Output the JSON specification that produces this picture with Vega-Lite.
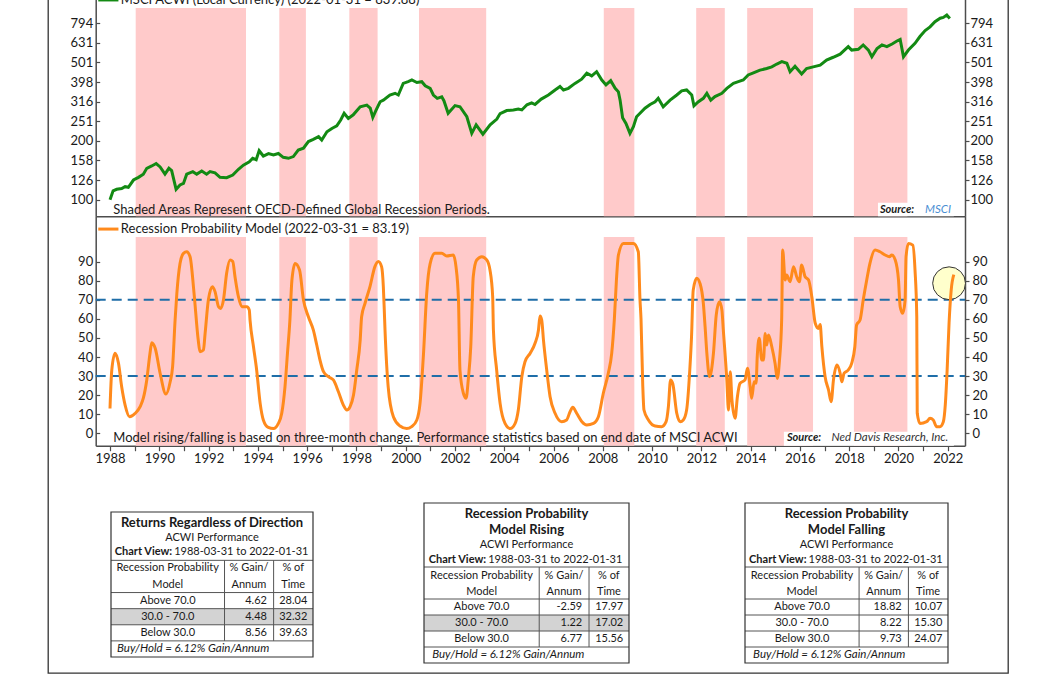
{
  "$schema": "https://vega.github.io/schema/vega-lite/v6.json",
  "width": 960,
  "height": 693,
  "autosize": {"type": "none"},
  "padding": {"left": 48, "top": -20, "right": 48, "bottom": 2},
  "background": "white",
  "view": {"stroke": "#333333", "strokeWidth": 1.3},
  "config": {
    "font": "Lato",
    "locale": {"number": {"decimal": ".", "thousands": ",", "grouping": [3], "currency": ["$", ""], "minus": "-"}},
    "text": {"font": "Lato", "fontSize": 13, "color": "#1a1a1a", "baseline": "middle"},
    "axis": {"labelFont": "Lato", "labelFontSize": 13, "labelColor": "#1a1a1a", "domainColor": "#4d4d4d", "domainWidth": 1.5, "tickColor": "#4d4d4d", "tickWidth": 1.2, "grid": false}
  },
  "datasets": {
    "recessions": [
      {"start": "1989-01-15", "end": "1993-07-08"},
      {"start": "1994-11-14", "end": "1995-12-13"},
      {"start": "1997-09-17", "end": "1998-11-10"},
      {"start": "2000-07-16", "end": "2003-04-08"},
      {"start": "2008-01-15", "end": "2009-04-12"},
      {"start": "2011-10-16", "end": "2012-12-13"},
      {"start": "2013-11-10", "end": "2016-07-13"},
      {"start": "2018-03-11", "end": "2020-05-12"}
    ],
    "acwi": [
      {"date": "1987-12-31", "value": 100}, {"date": "1988-02-15", "value": 111}, {"date": "1988-04-08", "value": 113},
      {"date": "1988-06-21", "value": 114}, {"date": "1988-08-11", "value": 116.5}, {"date": "1988-09-28", "value": 115.7},
      {"date": "1988-12-13", "value": 126}, {"date": "1989-02-25", "value": 130}, {"date": "1989-05-08", "value": 135},
      {"date": "1989-06-28", "value": 144.6}, {"date": "1989-09-10", "value": 148.6}, {"date": "1989-11-14", "value": 153},
      {"date": "1990-01-12", "value": 147}, {"date": "1990-03-25", "value": 135}, {"date": "1990-05-22", "value": 144.6},
      {"date": "1990-07-02", "value": 140.6}, {"date": "1990-09-06", "value": 113}, {"date": "1990-11-03", "value": 118.9},
      {"date": "1990-12-24", "value": 121}, {"date": "1991-02-10", "value": 135}, {"date": "1991-05-12", "value": 139},
      {"date": "1991-07-09", "value": 135}, {"date": "1991-09-21", "value": 140}, {"date": "1991-12-02", "value": 135},
      {"date": "1992-01-22", "value": 139}, {"date": "1992-04-05", "value": 137}, {"date": "1992-06-18", "value": 130},
      {"date": "1992-09-24", "value": 129.5}, {"date": "1992-12-24", "value": 133.6}, {"date": "1993-03-18", "value": 143},
      {"date": "1993-05-30", "value": 150}, {"date": "1993-08-26", "value": 156}, {"date": "1993-10-16", "value": 162.6},
      {"date": "1993-12-06", "value": 160}, {"date": "1994-01-19", "value": 177.8}, {"date": "1994-03-22", "value": 167},
      {"date": "1994-06-07", "value": 172}, {"date": "1994-08-19", "value": 169}, {"date": "1994-10-31", "value": 172},
      {"date": "1995-01-12", "value": 164.5}, {"date": "1995-03-29", "value": 162.6}, {"date": "1995-06-10", "value": 166},
      {"date": "1995-08-22", "value": 179}, {"date": "1995-11-07", "value": 183}, {"date": "1996-01-19", "value": 198},
      {"date": "1996-04-01", "value": 203}, {"date": "1996-06-18", "value": 209.8}, {"date": "1996-08-04", "value": 201.5},
      {"date": "1996-10-20", "value": 222}, {"date": "1997-01-01", "value": 231}, {"date": "1997-03-15", "value": 238},
      {"date": "1997-05-12", "value": 255}, {"date": "1997-07-02", "value": 276}, {"date": "1997-09-02", "value": 260},
      {"date": "1997-11-14", "value": 271}, {"date": "1998-02-25", "value": 298}, {"date": "1998-06-03", "value": 304},
      {"date": "1998-07-24", "value": 293}, {"date": "1998-08-31", "value": 263}, {"date": "1998-10-20", "value": 287},
      {"date": "1998-12-17", "value": 316}, {"date": "1999-02-03", "value": 322}, {"date": "1999-05-11", "value": 342},
      {"date": "1999-07-27", "value": 349}, {"date": "1999-09-13", "value": 342}, {"date": "1999-11-25", "value": 392},
      {"date": "2000-02-06", "value": 400}, {"date": "2000-04-01", "value": 408}, {"date": "2000-06-14", "value": 396},
      {"date": "2000-08-26", "value": 400}, {"date": "2000-10-16", "value": 381}, {"date": "2000-12-28", "value": 370},
      {"date": "2001-02-14", "value": 342}, {"date": "2001-04-13", "value": 329}, {"date": "2001-06-18", "value": 335},
      {"date": "2001-07-20", "value": 320}, {"date": "2001-09-21", "value": 276}, {"date": "2002-01-01", "value": 302},
      {"date": "2002-03-15", "value": 298}, {"date": "2002-06-25", "value": 265}, {"date": "2002-09-06", "value": 218},
      {"date": "2002-11-10", "value": 241}, {"date": "2003-02-18", "value": 216}, {"date": "2003-06-05", "value": 241},
      {"date": "2003-09-13", "value": 258}, {"date": "2003-10-31", "value": 275}, {"date": "2004-02-06", "value": 285},
      {"date": "2004-05-15", "value": 287}, {"date": "2004-07-27", "value": 290}, {"date": "2004-09-17", "value": 287},
      {"date": "2004-12-02", "value": 305}, {"date": "2005-02-10", "value": 312}, {"date": "2005-04-01", "value": 306},
      {"date": "2005-07-02", "value": 326}, {"date": "2005-10-16", "value": 342}, {"date": "2006-01-23", "value": 363},
      {"date": "2006-04-06", "value": 378}, {"date": "2006-05-27", "value": 363}, {"date": "2006-08-08", "value": 370},
      {"date": "2006-11-14", "value": 392}, {"date": "2007-02-21", "value": 412}, {"date": "2007-05-08", "value": 442},
      {"date": "2007-07-20", "value": 428}, {"date": "2007-10-01", "value": 450}, {"date": "2007-12-17", "value": 408},
      {"date": "2008-02-17", "value": 385}, {"date": "2008-04-27", "value": 405}, {"date": "2008-07-02", "value": 370},
      {"date": "2008-08-19", "value": 355}, {"date": "2008-09-13", "value": 322}, {"date": "2008-10-20", "value": 262},
      {"date": "2008-12-09", "value": 245}, {"date": "2009-02-06", "value": 218}, {"date": "2009-03-29", "value": 236},
      {"date": "2009-05-15", "value": 265}, {"date": "2009-07-05", "value": 276}, {"date": "2009-09-17", "value": 293},
      {"date": "2009-12-02", "value": 306}, {"date": "2010-02-14", "value": 316}, {"date": "2010-04-01", "value": 329},
      {"date": "2010-06-14", "value": 298}, {"date": "2010-09-24", "value": 322}, {"date": "2011-01-01", "value": 342},
      {"date": "2011-03-15", "value": 359}, {"date": "2011-05-27", "value": 363}, {"date": "2011-08-11", "value": 342},
      {"date": "2011-09-13", "value": 301}, {"date": "2011-11-18", "value": 316}, {"date": "2012-01-30", "value": 329},
      {"date": "2012-03-22", "value": 349}, {"date": "2012-05-19", "value": 322}, {"date": "2012-07-20", "value": 336},
      {"date": "2012-10-31", "value": 349}, {"date": "2013-01-12", "value": 370}, {"date": "2013-04-20", "value": 392},
      {"date": "2013-07-02", "value": 400}, {"date": "2013-09-13", "value": 408}, {"date": "2013-11-25", "value": 433},
      {"date": "2014-02-10", "value": 444}, {"date": "2014-05-19", "value": 458}, {"date": "2014-08-26", "value": 467},
      {"date": "2014-11-10", "value": 476}, {"date": "2015-01-23", "value": 492}, {"date": "2015-04-08", "value": 506},
      {"date": "2015-06-21", "value": 497}, {"date": "2015-08-08", "value": 450}, {"date": "2015-10-20", "value": 480},
      {"date": "2016-01-26", "value": 438}, {"date": "2016-04-08", "value": 467}, {"date": "2016-07-16", "value": 476},
      {"date": "2016-10-27", "value": 486}, {"date": "2017-01-30", "value": 516}, {"date": "2017-05-08", "value": 533},
      {"date": "2017-08-19", "value": 553}, {"date": "2017-12-17", "value": 604}, {"date": "2018-02-06", "value": 580},
      {"date": "2018-05-15", "value": 585}, {"date": "2018-07-27", "value": 616}, {"date": "2018-10-12", "value": 580},
      {"date": "2018-12-02", "value": 536}, {"date": "2019-02-17", "value": 591}, {"date": "2019-05-01", "value": 616},
      {"date": "2019-07-13", "value": 604}, {"date": "2019-09-28", "value": 623}, {"date": "2019-12-09", "value": 645},
      {"date": "2020-01-26", "value": 657}, {"date": "2020-03-15", "value": 536}, {"date": "2020-05-27", "value": 580},
      {"date": "2020-09-02", "value": 628}, {"date": "2020-11-14", "value": 680}, {"date": "2021-01-30", "value": 730},
      {"date": "2021-04-13", "value": 762}, {"date": "2021-06-25", "value": 809}, {"date": "2021-09-10", "value": 843},
      {"date": "2021-10-27", "value": 851}, {"date": "2021-12-17", "value": 875}, {"date": "2022-01-31", "value": 839.88}
    ],
    "rpm": [
      {"date": "1987-12-31", "value": 13}, {"date": "1988-01-26", "value": 33}, {"date": "1988-03-15", "value": 42},
      {"date": "1988-05-05", "value": 36.7}, {"date": "1988-06-21", "value": 24.4}, {"date": "1988-08-11", "value": 14.8},
      {"date": "1988-10-16", "value": 8.7}, {"date": "1989-01-08", "value": 10.5}, {"date": "1989-03-22", "value": 14},
      {"date": "1989-05-08", "value": 18.4}, {"date": "1989-06-28", "value": 28}, {"date": "1989-08-15", "value": 42},
      {"date": "1989-09-10", "value": 47.5}, {"date": "1989-10-31", "value": 44.6}, {"date": "1990-01-12", "value": 31.5},
      {"date": "1990-04-08", "value": 20.6}, {"date": "1990-06-10", "value": 27}, {"date": "1990-07-16", "value": 34.9},
      {"date": "1990-08-22", "value": 59.4}, {"date": "1990-09-17", "value": 73.4}, {"date": "1990-11-03", "value": 89},
      {"date": "1990-12-24", "value": 94.4}, {"date": "1991-02-10", "value": 95.2}, {"date": "1991-04-01", "value": 92.6},
      {"date": "1991-05-30", "value": 73.4}, {"date": "1991-07-31", "value": 48.9}, {"date": "1991-08-26", "value": 42.8},
      {"date": "1991-10-16", "value": 43.7}, {"date": "1991-11-10", "value": 52.4}, {"date": "1991-12-28", "value": 69.9},
      {"date": "1992-02-25", "value": 76.9}, {"date": "1992-04-05", "value": 74.3}, {"date": "1992-05-27", "value": 66.4},
      {"date": "1992-06-28", "value": 65.5}, {"date": "1992-08-08", "value": 69.9}, {"date": "1992-09-24", "value": 83.9},
      {"date": "1992-11-14", "value": 90.9}, {"date": "1992-12-24", "value": 90.1}, {"date": "1993-01-26", "value": 82.1},
      {"date": "1993-03-18", "value": 71.6}, {"date": "1993-05-08", "value": 66.4}, {"date": "1993-07-20", "value": 66.4},
      {"date": "1993-08-26", "value": 64.7}, {"date": "1993-09-06", "value": 59.4}, {"date": "1993-10-27", "value": 45.4},
      {"date": "1993-12-13", "value": 33.2}, {"date": "1994-02-03", "value": 15.7}, {"date": "1994-03-22", "value": 7},
      {"date": "1994-06-03", "value": 3.1}, {"date": "1994-08-19", "value": 2.5}, {"date": "1994-10-31", "value": 5.2},
      {"date": "1994-12-20", "value": 10.5}, {"date": "1995-02-06", "value": 24.4}, {"date": "1995-03-15", "value": 42},
      {"date": "1995-04-20", "value": 59.4}, {"date": "1995-05-19", "value": 80}, {"date": "1995-07-05", "value": 89},
      {"date": "1995-09-10", "value": 85.6}, {"date": "1995-11-07", "value": 69.9}, {"date": "1996-01-19", "value": 61.1},
      {"date": "1996-04-01", "value": 54.2}, {"date": "1996-05-22", "value": 46.3}, {"date": "1996-07-09", "value": 38.4},
      {"date": "1996-08-30", "value": 32.3}, {"date": "1996-11-10", "value": 29.7}, {"date": "1997-01-23", "value": 28},
      {"date": "1997-04-08", "value": 21.8}, {"date": "1997-06-21", "value": 14.8}, {"date": "1997-08-11", "value": 12.2},
      {"date": "1997-09-28", "value": 14}, {"date": "1997-11-18", "value": 20.1}, {"date": "1998-01-05", "value": 33.2},
      {"date": "1998-02-25", "value": 48.9}, {"date": "1998-03-18", "value": 61.1}, {"date": "1998-05-08", "value": 68.2},
      {"date": "1998-07-20", "value": 76.9}, {"date": "1998-10-01", "value": 87.4}, {"date": "1998-11-21", "value": 90.1},
      {"date": "1999-01-08", "value": 87.4}, {"date": "1999-02-03", "value": 76.9}, {"date": "1999-02-17", "value": 64.7},
      {"date": "1999-02-28", "value": 54.2}, {"date": "1999-04-16", "value": 24.4}, {"date": "1999-07-02", "value": 8.7},
      {"date": "1999-10-09", "value": 3.8}, {"date": "2000-01-15", "value": 2.5}, {"date": "2000-03-29", "value": 3.5},
      {"date": "2000-06-14", "value": 7}, {"date": "2000-07-31", "value": 15.7}, {"date": "2000-09-21", "value": 42},
      {"date": "2000-11-07", "value": 73.4}, {"date": "2000-12-28", "value": 89}, {"date": "2001-03-11", "value": 94.4},
      {"date": "2001-06-18", "value": 94.4}, {"date": "2001-08-30", "value": 93}, {"date": "2001-12-06", "value": 93.5},
      {"date": "2002-01-15", "value": 87.4}, {"date": "2002-02-21", "value": 69.9}, {"date": "2002-03-15", "value": 33.2},
      {"date": "2002-05-05", "value": 21}, {"date": "2002-06-14", "value": 18.4}, {"date": "2002-07-16", "value": 28},
      {"date": "2002-08-22", "value": 45.4}, {"date": "2002-09-28", "value": 82.1}, {"date": "2002-11-18", "value": 90.9},
      {"date": "2003-02-03", "value": 92.6}, {"date": "2003-04-16", "value": 90.9}, {"date": "2003-06-03", "value": 85.6},
      {"date": "2003-07-13", "value": 71.6}, {"date": "2003-07-24", "value": 54.2}, {"date": "2003-09-10", "value": 33.2},
      {"date": "2003-10-31", "value": 15.7}, {"date": "2004-01-12", "value": 5.2}, {"date": "2004-03-29", "value": 2.5},
      {"date": "2004-06-10", "value": 5.2}, {"date": "2004-07-27", "value": 12.2}, {"date": "2004-09-17", "value": 29.7},
      {"date": "2004-11-03", "value": 37.5}, {"date": "2005-01-19", "value": 42}, {"date": "2005-04-01", "value": 47.2},
      {"date": "2005-05-22", "value": 54.2}, {"date": "2005-06-14", "value": 61.5}, {"date": "2005-07-09", "value": 59.4},
      {"date": "2005-08-04", "value": 48.9}, {"date": "2005-09-21", "value": 33.2}, {"date": "2005-11-10", "value": 19.2},
      {"date": "2006-01-23", "value": 10.5}, {"date": "2006-05-01", "value": 6.1}, {"date": "2006-07-13", "value": 7},
      {"date": "2006-09-02", "value": 11.3}, {"date": "2006-10-12", "value": 13.6}, {"date": "2006-12-09", "value": 10.5},
      {"date": "2007-02-25", "value": 6.1}, {"date": "2007-05-08", "value": 4.4}, {"date": "2007-08-15", "value": 5.2},
      {"date": "2007-10-27", "value": 8.7}, {"date": "2008-01-08", "value": 21}, {"date": "2008-03-22", "value": 31.5},
      {"date": "2008-05-12", "value": 42}, {"date": "2008-06-20", "value": 60}, {"date": "2008-07-20", "value": 80},
      {"date": "2008-08-19", "value": 93.5}, {"date": "2008-10-31", "value": 99.6}, {"date": "2009-03-29", "value": 99.6},
      {"date": "2009-06-10", "value": 95.2}, {"date": "2009-07-05", "value": 69.9}, {"date": "2009-07-20", "value": 60},
      {"date": "2009-08-15", "value": 25}, {"date": "2009-09-02", "value": 12.2}, {"date": "2009-11-07", "value": 7},
      {"date": "2010-02-14", "value": 3.8}, {"date": "2010-05-22", "value": 3.5}, {"date": "2010-07-27", "value": 6.1},
      {"date": "2010-08-30", "value": 14}, {"date": "2010-10-01", "value": 28}, {"date": "2010-11-03", "value": 26},
      {"date": "2011-01-01", "value": 10.5}, {"date": "2011-02-21", "value": 6.1}, {"date": "2011-04-08", "value": 7},
      {"date": "2011-05-27", "value": 12.2}, {"date": "2011-07-13", "value": 33.2}, {"date": "2011-08-08", "value": 50.7},
      {"date": "2011-09-02", "value": 75.1}, {"date": "2011-10-24", "value": 81.3}, {"date": "2011-12-13", "value": 78.4},
      {"date": "2012-01-30", "value": 68.2}, {"date": "2012-02-25", "value": 55.9}, {"date": "2012-03-22", "value": 42},
      {"date": "2012-05-01", "value": 29.7}, {"date": "2012-06-28", "value": 42}, {"date": "2012-08-08", "value": 62},
      {"date": "2012-09-24", "value": 69}, {"date": "2012-10-31", "value": 64.7}, {"date": "2012-11-21", "value": 54.2},
      {"date": "2013-01-12", "value": 28}, {"date": "2013-02-06", "value": 12.2}, {"date": "2013-03-04", "value": 32.3},
      {"date": "2013-03-29", "value": 17.5}, {"date": "2013-05-15", "value": 7.9}, {"date": "2013-06-18", "value": 19.2},
      {"date": "2013-07-27", "value": 26.2}, {"date": "2013-10-09", "value": 28}, {"date": "2013-11-14", "value": 34.1},
      {"date": "2013-12-24", "value": 24.4}, {"date": "2014-01-15", "value": 18.4}, {"date": "2014-02-21", "value": 27},
      {"date": "2014-03-22", "value": 26.2}, {"date": "2014-04-08", "value": 40.2}, {"date": "2014-05-08", "value": 49.8},
      {"date": "2014-06-14", "value": 38.4}, {"date": "2014-07-09", "value": 38.4}, {"date": "2014-08-04", "value": 52.4},
      {"date": "2014-08-26", "value": 46.3}, {"date": "2014-09-21", "value": 51.5}, {"date": "2014-11-10", "value": 45.4},
      {"date": "2014-12-28", "value": 36.7}, {"date": "2015-01-30", "value": 28.8}, {"date": "2015-03-04", "value": 38.4},
      {"date": "2015-04-05", "value": 59.4}, {"date": "2015-04-20", "value": 96.1}, {"date": "2015-05-27", "value": 80.4},
      {"date": "2015-06-18", "value": 83}, {"date": "2015-08-08", "value": 79.5}, {"date": "2015-09-28", "value": 87.4},
      {"date": "2015-11-14", "value": 82.1}, {"date": "2015-12-24", "value": 79.5}, {"date": "2016-01-26", "value": 88.3},
      {"date": "2016-03-18", "value": 82.1}, {"date": "2016-05-08", "value": 80.4}, {"date": "2016-06-25", "value": 71.6},
      {"date": "2016-08-15", "value": 57.7}, {"date": "2016-10-01", "value": 55}, {"date": "2016-10-27", "value": 57},
      {"date": "2016-11-21", "value": 45.4}, {"date": "2017-01-08", "value": 29.7}, {"date": "2017-02-28", "value": 22.7},
      {"date": "2017-04-08", "value": 16.6}, {"date": "2017-05-12", "value": 28}, {"date": "2017-07-02", "value": 35.8},
      {"date": "2017-08-19", "value": 31.5}, {"date": "2017-09-13", "value": 27}, {"date": "2017-10-16", "value": 31.5},
      {"date": "2017-12-17", "value": 33.2}, {"date": "2018-02-06", "value": 36.7}, {"date": "2018-03-25", "value": 45.4},
      {"date": "2018-04-20", "value": 56.8}, {"date": "2018-06-10", "value": 59.4}, {"date": "2018-07-27", "value": 69.9},
      {"date": "2018-09-17", "value": 80.4}, {"date": "2018-11-03", "value": 89}, {"date": "2019-01-19", "value": 96.1},
      {"date": "2019-04-01", "value": 95.2}, {"date": "2019-06-18", "value": 93.5}, {"date": "2019-08-19", "value": 92.6},
      {"date": "2019-09-24", "value": 93.5}, {"date": "2019-11-14", "value": 90.9}, {"date": "2020-01-01", "value": 80.4},
      {"date": "2020-01-26", "value": 66.4}, {"date": "2020-03-04", "value": 62.9}, {"date": "2020-04-08", "value": 69.9},
      {"date": "2020-04-22", "value": 92.6}, {"date": "2020-05-27", "value": 99.6}, {"date": "2020-07-31", "value": 98.7},
      {"date": "2020-09-02", "value": 85.6}, {"date": "2020-09-28", "value": 61.1}, {"date": "2020-10-05", "value": 10.5},
      {"date": "2020-11-14", "value": 5.2}, {"date": "2021-02-21", "value": 6.1}, {"date": "2021-04-13", "value": 7.9},
      {"date": "2021-05-30", "value": 7}, {"date": "2021-07-20", "value": 3.5}, {"date": "2021-09-06", "value": 3.5},
      {"date": "2021-10-27", "value": 6.1}, {"date": "2021-11-25", "value": 15}, {"date": "2021-12-22", "value": 33},
      {"date": "2022-01-20", "value": 58}, {"date": "2022-02-20", "value": 75}, {"date": "2022-03-31", "value": 83.19}
    ],
    "stats": [
      {"table": "regardless", "band": "Above 70.0", "gain": 4.62, "time": 28.04},
      {"table": "regardless", "band": "30.0 - 70.0", "gain": 4.48, "time": 32.32},
      {"table": "regardless", "band": "Below 30.0", "gain": 8.56, "time": 39.63},
      {"table": "rising", "band": "Above 70.0", "gain": -2.59, "time": 17.97},
      {"table": "rising", "band": "30.0 - 70.0", "gain": 1.22, "time": 17.02},
      {"table": "rising", "band": "Below 30.0", "gain": 6.77, "time": 15.56},
      {"table": "falling", "band": "Above 70.0", "gain": 18.82, "time": 10.07},
      {"table": "falling", "band": "30.0 - 70.0", "gain": 8.22, "time": 15.3},
      {"table": "falling", "band": "Below 30.0", "gain": 9.73, "time": 24.07}
    ],
    "tableHeader": [
      {"line": "h1", "model": "Recession Probability", "gain": "% Gain/", "time": "% of"},
      {"line": "h2", "model": "Model", "gain": "Annum", "time": "Time"}
    ]
  },
  "layer": [
    {
      "layer": [
        {
          "data": {"name": "recessions"},
          "mark": {"type": "rect", "color": "#ffcaca"},
          "encoding": {
            "x": {"field": "start", "type": "temporal", "scale": {"type": "utc", "domain": [{"year": 1987, "month": 6, "date": 2, "utc": true}, {"year": 2022, "month": 9, "date": 13, "utc": true}], "range": [47.7, 917], "nice": false}, "axis": {"orient": "bottom", "offset": -456.7, "ticks": false, "labels": false, "title": null}},
            "x2": {"field": "end"},
            "y": {"datum": 950.7, "type": "quantitative", "scale": {"type": "log", "domain": [82.27, 1321], "range": [236.3, 0], "nice": false, "zero": false}, "axis": {"orient": "left", "offset": -47.7, "values": [100, 125.893, 158.489, 199.526, 251.189, 316.228, 398.107, 501.187, 630.957, 794.328], "format": ".0f", "tickSize": -4, "labelPadding": 7, "title": null}},
            "y2": {"datum": 82.27}
          }
        },
        {
          "data": {"values": [{}]},
          "mark": {"type": "rect", "color": "white"},
          "encoding": {
            "x": {"datum": {"year": 2019, "month": 3, "date": 3, "utc": true}, "type": "temporal"},
            "x2": {"datum": {"year": 2022, "month": 4, "date": 1, "utc": true}},
            "y": {"datum": 96.5, "type": "quantitative"},
            "y2": {"datum": 82.27}
          }
        },
        {
          "data": {"name": "acwi"},
          "mark": {"type": "line", "color": "#138a13", "strokeWidth": 3},
          "encoding": {
            "x": {"field": "date", "type": "temporal"},
            "y": {"field": "value", "type": "quantitative"}
          }
        },
        {
          "data": {"values": [{}]},
          "mark": {"type": "rule", "color": "#138a13", "strokeWidth": 3},
          "encoding": {
            "x": {"datum": {"year": 1987, "month": 7, "date": 10, "utc": true}, "type": "temporal"},
            "x2": {"datum": {"year": 1988, "month": 5, "date": 4, "utc": true}},
            "y": {"datum": 1045, "type": "quantitative"}
          }
        },
        {
          "data": {"values": [{}]},
          "mark": {"type": "text", "text": "MSCI ACWI (Local Currency) (2022-01-31 = 839.88)", "align": "left", "fontSize": 13},
          "encoding": {
            "x": {"datum": {"year": 1988, "month": 6, "date": 8, "utc": true}, "type": "temporal"},
            "y": {"datum": 1045, "type": "quantitative"}
          }
        },
        {
          "data": {"values": [{}]},
          "mark": {"type": "text", "text": "Shaded Areas Represent OECD-Defined Global Recession Periods.", "align": "left", "fontSize": 13},
          "encoding": {
            "x": {"datum": {"year": 1988, "month": 2, "date": 18, "utc": true}, "type": "temporal"},
            "y": {"datum": 88.9, "type": "quantitative"}
          }
        },
        {
          "data": {"values": [{}]},
          "mark": {"type": "text", "text": "Source:", "align": "left", "fontSize": 11, "fontWeight": "bold", "fontStyle": "italic"},
          "encoding": {
            "x": {"datum": {"year": 2019, "month": 4, "date": 1, "utc": true}, "type": "temporal"},
            "y": {"datum": 88.6, "type": "quantitative"}
          }
        },
        {
          "data": {"values": [{}]},
          "mark": {"type": "text", "text": "MSCI", "align": "left", "fontSize": 11.5, "fontStyle": "italic", "color": "#4a8fd4"},
          "encoding": {
            "x": {"datum": {"year": 2021, "month": 1, "date": 29, "utc": true}, "type": "temporal"},
            "y": {"datum": 88.6, "type": "quantitative"}
          }
        }
      ]
    },
    {
      "data": {"name": "acwi"},
      "mark": {"type": "line", "opacity": 0},
      "encoding": {
        "x": {"field": "date", "type": "temporal", "scale": {"type": "utc", "domain": [{"year": 1987, "month": 6, "date": 2, "utc": true}, {"year": 2022, "month": 9, "date": 13, "utc": true}], "range": [47.7, 917], "nice": false}, "axis": null},
        "y": {"field": "value", "type": "quantitative", "scale": {"type": "log", "domain": [82.27, 1321], "range": [236.3, 0], "nice": false, "zero": false}, "axis": {"orient": "right", "offset": -43, "values": [100, 125.893, 158.489, 199.526, 251.189, 316.228, 398.107, 501.187, 630.957, 794.328], "format": ".0f", "tickSize": 4, "labelPadding": 1, "title": null}}
      }
    },
    {
      "layer": [
        {
          "data": {"name": "recessions"},
          "mark": {"type": "rect", "color": "#ffcaca"},
          "encoding": {
            "x": {"field": "start", "type": "temporal", "scale": {"type": "utc", "domain": [{"year": 1987, "month": 6, "date": 2, "utc": true}, {"year": 2022, "month": 9, "date": 13, "utc": true}], "range": [47.7, 917], "nice": false}, "axis": {"orient": "bottom", "offset": -227.3, "format": "%Y", "tickCount": {"interval": "year", "step": 1}, "labelExpr": "utcyear(datum.value) % 2 == 0 ? datum.label : ''", "tickSize": 5, "labelPadding": 2, "labelOverlap": false, "labelFlush": false, "labelBound": false, "title": null}},
            "x2": {"field": "end"},
            "y": {"datum": 102.9, "type": "quantitative", "scale": {"type": "linear", "domain": [-6.5, 113.8], "range": [465.7, 236.3], "nice": false, "zero": false}, "axis": {"orient": "left", "offset": -47.7, "values": [0, 10, 20, 30, 40, 50, 60, 70, 80, 90], "tickSize": -4, "labelPadding": 7, "title": null}},
            "y2": {"datum": -6.5}
          }
        },
        {
          "data": {"values": [{}]},
          "mark": {"type": "rect", "color": "white"},
          "encoding": {
            "x": {"datum": {"year": 2015, "month": 5, "date": 8, "utc": true}, "type": "temporal"},
            "x2": {"datum": {"year": 2022, "month": 4, "date": 1, "utc": true}},
            "y": {"datum": 0.84, "type": "quantitative"},
            "y2": {"datum": -6.5}
          }
        },
        {
          "data": {"values": [{"level": 70}, {"level": 30}]},
          "mark": {"type": "rule", "color": "#1f6ea8", "strokeWidth": 2, "strokeDash": [10, 6]},
          "encoding": {
            "x": {"datum": {"year": 1987, "month": 6, "date": 2, "utc": true}, "type": "temporal"},
            "x2": {"datum": {"year": 2022, "month": 9, "date": 13, "utc": true}},
            "y": {"field": "level", "type": "quantitative"}
          }
        },
        {
          "data": {"values": [{}]},
          "mark": {"type": "point", "shape": "circle", "filled": true, "size": 1075, "fill": "#ffffcc", "stroke": "#333333", "strokeWidth": 1, "opacity": 1},
          "encoding": {
            "x": {"datum": {"year": 2022, "month": 1, "date": 20, "utc": true}, "type": "temporal"},
            "y": {"datum": 78.7, "type": "quantitative"}
          }
        },
        {
          "data": {"name": "rpm"},
          "mark": {"type": "line", "color": "#ff8a1c", "strokeWidth": 3, "interpolate": "monotone"},
          "encoding": {
            "x": {"field": "date", "type": "temporal"},
            "y": {"field": "value", "type": "quantitative"}
          }
        },
        {
          "data": {"values": [{}]},
          "mark": {"type": "rule", "color": "#ff8a1c", "strokeWidth": 3},
          "encoding": {
            "x": {"datum": {"year": 1987, "month": 7, "date": 10, "utc": true}, "type": "temporal"},
            "x2": {"datum": {"year": 1988, "month": 5, "date": 4, "utc": true}},
            "y": {"datum": 107.1, "type": "quantitative"}
          }
        },
        {
          "data": {"values": [{}]},
          "mark": {"type": "text", "text": "Recession Probability Model (2022-03-31 = 83.19)", "align": "left", "fontSize": 13},
          "encoding": {
            "x": {"datum": {"year": 1988, "month": 6, "date": 8, "utc": true}, "type": "temporal"},
            "y": {"datum": 107.1, "type": "quantitative"}
          }
        },
        {
          "data": {"values": [{}]},
          "mark": {"type": "text", "text": "Model rising/falling is based on three-month change. Performance statistics based on end date of MSCI ACWI", "align": "left", "fontSize": 13},
          "encoding": {
            "x": {"datum": {"year": 1988, "month": 2, "date": 18, "utc": true}, "type": "temporal"},
            "y": {"datum": -2.62, "type": "quantitative"}
          }
        },
        {
          "data": {"values": [{}]},
          "mark": {"type": "text", "text": "Source:", "align": "left", "fontSize": 11, "fontWeight": "bold", "fontStyle": "italic"},
          "encoding": {
            "x": {"datum": {"year": 2015, "month": 6, "date": 22, "utc": true}, "type": "temporal"},
            "y": {"datum": -2.62, "type": "quantitative"}
          }
        },
        {
          "data": {"values": [{}]},
          "mark": {"type": "text", "text": "Ned Davis Research, Inc.", "align": "left", "fontSize": 11.5, "fontStyle": "italic", "color": "#333333"},
          "encoding": {
            "x": {"datum": {"year": 2017, "month": 4, "date": 12, "utc": true}, "type": "temporal"},
            "y": {"datum": -2.62, "type": "quantitative"}
          }
        }
      ]
    },
    {
      "data": {"name": "rpm"},
      "mark": {"type": "line", "opacity": 0},
      "encoding": {
        "x": {"field": "date", "type": "temporal", "scale": {"type": "utc", "domain": [{"year": 1987, "month": 6, "date": 2, "utc": true}, {"year": 2022, "month": 9, "date": 13, "utc": true}], "range": [47.7, 917], "nice": false}, "axis": null},
        "y": {"field": "value", "type": "quantitative", "scale": {"type": "linear", "domain": [-6.5, 113.8], "range": [465.7, 236.3], "nice": false, "zero": false}, "axis": {"orient": "right", "offset": -43, "values": [0, 10, 20, 30, 40, 50, 60, 70, 80, 90], "tickSize": 4, "labelPadding": 3, "title": null}}
      }
    },
    {
      "layer": [
        {
          "data": {"values": [{}]},
          "mark": {"type": "rect", "color": "#d3d3d3"},
          "encoding": {
            "x": {"datum": 0, "type": "quantitative", "scale": {"type": "linear", "domain": [0, 1], "range": [63, 265], "nice": false, "zero": false}, "axis": null},
            "x2": {"datum": 1},
            "y": {"datum": "e6", "type": "nominal", "scale": {"type": "point", "domain": ["e0", "title", "e1", "perf", "e2", "view", "e3", "h1", "e4", "h2", "e5", "Above 70.0", "e6", "30.0 - 70.0", "e7", "Below 30.0", "e8", "foot", "e9"], "range": [532, 677], "padding": 0}, "axis": null},
            "y2": {"datum": "e7"}
          }
        },
        {
          "data": {"values": [{"edge": "e3"}, {"edge": "e5"}, {"edge": "e6"}, {"edge": "e7"}, {"edge": "e8"}]},
          "mark": {"type": "rule", "color": "#555555", "strokeWidth": 1},
          "encoding": {"x": {"datum": 0, "type": "quantitative"}, "x2": {"datum": 1}, "y": {"field": "edge", "type": "nominal"}}
        },
        {
          "data": {"values": [{}]},
          "mark": {"type": "rule", "color": "#555555", "strokeWidth": 1},
          "encoding": {"x": {"datum": 0.562, "type": "quantitative"}, "y": {"datum": "e3", "type": "nominal"}, "y2": {"datum": "e8"}}
        },
        {
          "data": {"values": [{}]},
          "mark": {"type": "rule", "color": "#555555", "strokeWidth": 1},
          "encoding": {"x": {"datum": 0.805, "type": "quantitative"}, "y": {"datum": "e3", "type": "nominal"}, "y2": {"datum": "e8"}}
        },
        {
          "data": {"values": [{}]},
          "mark": {"type": "rect", "fillOpacity": 0, "stroke": "#333333", "strokeWidth": 1.2},
          "encoding": {"x": {"datum": 0, "type": "quantitative"}, "x2": {"datum": 1}, "y": {"datum": "e0", "type": "nominal"}, "y2": {"datum": "e9"}}
        },
        {
          "data": {"values": [{}]},
          "mark": {"type": "text", "text": "Returns Regardless of Direction", "fontWeight": "bold", "fontSize": 13, "dy": 3},
          "encoding": {"x": {"datum": 0.5, "type": "quantitative"}, "y": {"datum": "title", "type": "nominal"}}
        },
        {
          "data": {"values": [{}]},
          "mark": {"type": "text", "text": "ACWI Performance", "fontSize": 11, "dy": 2},
          "encoding": {"x": {"datum": 0.5, "type": "quantitative"}, "y": {"datum": "perf", "type": "nominal"}}
        },
        {
          "data": {"values": [{}]},
          "mark": {"type": "text", "text": "Chart View:", "fontWeight": "bold", "fontSize": 11, "align": "right"},
          "encoding": {"x": {"datum": 0.303, "type": "quantitative"}, "y": {"datum": "view", "type": "nominal"}}
        },
        {
          "data": {"values": [{}]},
          "mark": {"type": "text", "text": "1988-03-31 to 2022-01-31", "fontSize": 11, "align": "left"},
          "encoding": {"x": {"datum": 0.313, "type": "quantitative"}, "y": {"datum": "view", "type": "nominal"}}
        },
        {
          "data": {"name": "tableHeader"},
          "mark": {"type": "text", "fontSize": 11},
          "encoding": {"x": {"datum": 0.281, "type": "quantitative"}, "y": {"field": "line", "type": "nominal"}, "text": {"field": "model"}}
        },
        {
          "data": {"name": "tableHeader"},
          "mark": {"type": "text", "fontSize": 11},
          "encoding": {"x": {"datum": 0.683, "type": "quantitative"}, "y": {"field": "line", "type": "nominal"}, "text": {"field": "gain"}}
        },
        {
          "data": {"name": "tableHeader"},
          "mark": {"type": "text", "fontSize": 11},
          "encoding": {"x": {"datum": 0.902, "type": "quantitative"}, "y": {"field": "line", "type": "nominal"}, "text": {"field": "time"}}
        },
        {
          "data": {"name": "stats"},
          "transform": [{"filter": "datum.table == 'regardless'"}],
          "mark": {"type": "text", "fontSize": 11},
          "encoding": {"x": {"datum": 0.281, "type": "quantitative"}, "y": {"field": "band", "type": "nominal"}, "text": {"field": "band"}}
        },
        {
          "data": {"name": "stats"},
          "transform": [{"filter": "datum.table == 'regardless'"}],
          "mark": {"type": "text", "fontSize": 11, "align": "right"},
          "encoding": {"x": {"datum": 0.772, "type": "quantitative"}, "y": {"field": "band", "type": "nominal"}, "text": {"field": "gain", "type": "quantitative", "format": ".2f"}}
        },
        {
          "data": {"name": "stats"},
          "transform": [{"filter": "datum.table == 'regardless'"}],
          "mark": {"type": "text", "fontSize": 11, "align": "right"},
          "encoding": {"x": {"datum": 0.972, "type": "quantitative"}, "y": {"field": "band", "type": "nominal"}, "text": {"field": "time", "type": "quantitative", "format": ".2f"}}
        },
        {
          "data": {"values": [{}]},
          "mark": {"type": "text", "text": "Buy/Hold = 6.12% Gain/Annum", "fontSize": 11.5, "fontStyle": "italic", "align": "left"},
          "encoding": {"x": {"datum": 0.03, "type": "quantitative"}, "y": {"datum": "foot", "type": "nominal"}}
        }
      ]
    },
    {
      "layer": [
        {
          "data": {"values": [{}]},
          "mark": {"type": "rect", "color": "#d3d3d3"},
          "encoding": {
            "x": {"datum": 0, "type": "quantitative", "scale": {"type": "linear", "domain": [0, 1], "range": [376, 581], "nice": false, "zero": false}, "axis": null},
            "x2": {"datum": 1},
            "y": {"datum": "e7", "type": "nominal", "scale": {"type": "point", "domain": ["e0", "title1", "e1", "title2", "e2", "perf", "e3", "view", "e4", "h1", "e5", "h2", "e6", "Above 70.0", "e7", "30.0 - 70.0", "e8", "Below 30.0", "e9", "foot", "e10"], "range": [523, 683], "padding": 0}, "axis": null},
            "y2": {"datum": "e8"}
          }
        },
        {
          "data": {"values": [{"edge": "e4"}, {"edge": "e6"}, {"edge": "e7"}, {"edge": "e8"}, {"edge": "e9"}]},
          "mark": {"type": "rule", "color": "#555555", "strokeWidth": 1},
          "encoding": {"x": {"datum": 0, "type": "quantitative"}, "x2": {"datum": 1}, "y": {"field": "edge", "type": "nominal"}}
        },
        {
          "data": {"values": [{}]},
          "mark": {"type": "rule", "color": "#555555", "strokeWidth": 1},
          "encoding": {"x": {"datum": 0.562, "type": "quantitative"}, "y": {"datum": "e4", "type": "nominal"}, "y2": {"datum": "e9"}}
        },
        {
          "data": {"values": [{}]},
          "mark": {"type": "rule", "color": "#555555", "strokeWidth": 1},
          "encoding": {"x": {"datum": 0.805, "type": "quantitative"}, "y": {"datum": "e4", "type": "nominal"}, "y2": {"datum": "e9"}}
        },
        {
          "data": {"values": [{}]},
          "mark": {"type": "rect", "fillOpacity": 0, "stroke": "#333333", "strokeWidth": 1.2},
          "encoding": {"x": {"datum": 0, "type": "quantitative"}, "x2": {"datum": 1}, "y": {"datum": "e0", "type": "nominal"}, "y2": {"datum": "e10"}}
        },
        {
          "data": {"values": [{}]},
          "mark": {"type": "text", "text": "Recession Probability", "fontWeight": "bold", "fontSize": 13, "dy": 3},
          "encoding": {"x": {"datum": 0.5, "type": "quantitative"}, "y": {"datum": "title1", "type": "nominal"}}
        },
        {
          "data": {"values": [{}]},
          "mark": {"type": "text", "text": "Model Rising", "fontWeight": "bold", "fontSize": 13, "dy": 3},
          "encoding": {"x": {"datum": 0.5, "type": "quantitative"}, "y": {"datum": "title2", "type": "nominal"}}
        },
        {
          "data": {"values": [{}]},
          "mark": {"type": "text", "text": "ACWI Performance", "fontSize": 11, "dy": 2},
          "encoding": {"x": {"datum": 0.5, "type": "quantitative"}, "y": {"datum": "perf", "type": "nominal"}}
        },
        {
          "data": {"values": [{}]},
          "mark": {"type": "text", "text": "Chart View:", "fontWeight": "bold", "fontSize": 11, "align": "right", "dy": 1},
          "encoding": {"x": {"datum": 0.303, "type": "quantitative"}, "y": {"datum": "view", "type": "nominal"}}
        },
        {
          "data": {"values": [{}]},
          "mark": {"type": "text", "text": "1988-03-31 to 2022-01-31", "fontSize": 11, "align": "left", "dy": 1},
          "encoding": {"x": {"datum": 0.313, "type": "quantitative"}, "y": {"datum": "view", "type": "nominal"}}
        },
        {
          "data": {"name": "tableHeader"},
          "mark": {"type": "text", "fontSize": 11, "dy": 1},
          "encoding": {"x": {"datum": 0.281, "type": "quantitative"}, "y": {"field": "line", "type": "nominal"}, "text": {"field": "model"}}
        },
        {
          "data": {"name": "tableHeader"},
          "mark": {"type": "text", "fontSize": 11, "dy": 1},
          "encoding": {"x": {"datum": 0.683, "type": "quantitative"}, "y": {"field": "line", "type": "nominal"}, "text": {"field": "gain"}}
        },
        {
          "data": {"name": "tableHeader"},
          "mark": {"type": "text", "fontSize": 11, "dy": 1},
          "encoding": {"x": {"datum": 0.902, "type": "quantitative"}, "y": {"field": "line", "type": "nominal"}, "text": {"field": "time"}}
        },
        {
          "data": {"name": "stats"},
          "transform": [{"filter": "datum.table == 'rising'"}],
          "mark": {"type": "text", "fontSize": 11},
          "encoding": {"x": {"datum": 0.281, "type": "quantitative"}, "y": {"field": "band", "type": "nominal"}, "text": {"field": "band"}}
        },
        {
          "data": {"name": "stats"},
          "transform": [{"filter": "datum.table == 'rising'"}],
          "mark": {"type": "text", "fontSize": 11, "align": "right"},
          "encoding": {"x": {"datum": 0.772, "type": "quantitative"}, "y": {"field": "band", "type": "nominal"}, "text": {"field": "gain", "type": "quantitative", "format": ".2f"}}
        },
        {
          "data": {"name": "stats"},
          "transform": [{"filter": "datum.table == 'rising'"}],
          "mark": {"type": "text", "fontSize": 11, "align": "right"},
          "encoding": {"x": {"datum": 0.972, "type": "quantitative"}, "y": {"field": "band", "type": "nominal"}, "text": {"field": "time", "type": "quantitative", "format": ".2f"}}
        },
        {
          "data": {"values": [{}]},
          "mark": {"type": "text", "text": "Buy/Hold = 6.12% Gain/Annum", "fontSize": 11.5, "fontStyle": "italic", "align": "left"},
          "encoding": {"x": {"datum": 0.04, "type": "quantitative"}, "y": {"datum": "foot", "type": "nominal"}}
        }
      ]
    },
    {
      "layer": [
        {
          "data": {"values": [{"edge": "e4"}, {"edge": "e6"}, {"edge": "e7"}, {"edge": "e8"}, {"edge": "e9"}]},
          "mark": {"type": "rule", "color": "#555555", "strokeWidth": 1},
          "encoding": {
            "x": {"datum": 0, "type": "quantitative", "scale": {"type": "linear", "domain": [0, 1], "range": [697, 900], "nice": false, "zero": false}, "axis": null},
            "x2": {"datum": 1},
            "y": {"field": "edge", "type": "nominal", "scale": {"type": "point", "domain": ["e0", "title1", "e1", "title2", "e2", "perf", "e3", "view", "e4", "h1", "e5", "h2", "e6", "Above 70.0", "e7", "30.0 - 70.0", "e8", "Below 30.0", "e9", "foot", "e10"], "range": [523, 683], "padding": 0}, "axis": null}
          }
        },
        {
          "data": {"values": [{}]},
          "mark": {"type": "rule", "color": "#555555", "strokeWidth": 1},
          "encoding": {"x": {"datum": 0.562, "type": "quantitative"}, "y": {"datum": "e4", "type": "nominal"}, "y2": {"datum": "e9"}}
        },
        {
          "data": {"values": [{}]},
          "mark": {"type": "rule", "color": "#555555", "strokeWidth": 1},
          "encoding": {"x": {"datum": 0.805, "type": "quantitative"}, "y": {"datum": "e4", "type": "nominal"}, "y2": {"datum": "e9"}}
        },
        {
          "data": {"values": [{}]},
          "mark": {"type": "rect", "fillOpacity": 0, "stroke": "#333333", "strokeWidth": 1.2},
          "encoding": {"x": {"datum": 0, "type": "quantitative"}, "x2": {"datum": 1}, "y": {"datum": "e0", "type": "nominal"}, "y2": {"datum": "e10"}}
        },
        {
          "data": {"values": [{}]},
          "mark": {"type": "text", "text": "Recession Probability", "fontWeight": "bold", "fontSize": 13, "dy": 3},
          "encoding": {"x": {"datum": 0.5, "type": "quantitative"}, "y": {"datum": "title1", "type": "nominal"}}
        },
        {
          "data": {"values": [{}]},
          "mark": {"type": "text", "text": "Model Falling", "fontWeight": "bold", "fontSize": 13, "dy": 3},
          "encoding": {"x": {"datum": 0.5, "type": "quantitative"}, "y": {"datum": "title2", "type": "nominal"}}
        },
        {
          "data": {"values": [{}]},
          "mark": {"type": "text", "text": "ACWI Performance", "fontSize": 11, "dy": 2},
          "encoding": {"x": {"datum": 0.5, "type": "quantitative"}, "y": {"datum": "perf", "type": "nominal"}}
        },
        {
          "data": {"values": [{}]},
          "mark": {"type": "text", "text": "Chart View:", "fontWeight": "bold", "fontSize": 11, "align": "right", "dy": 1},
          "encoding": {"x": {"datum": 0.303, "type": "quantitative"}, "y": {"datum": "view", "type": "nominal"}}
        },
        {
          "data": {"values": [{}]},
          "mark": {"type": "text", "text": "1988-03-31 to 2022-01-31", "fontSize": 11, "align": "left", "dy": 1},
          "encoding": {"x": {"datum": 0.313, "type": "quantitative"}, "y": {"datum": "view", "type": "nominal"}}
        },
        {
          "data": {"name": "tableHeader"},
          "mark": {"type": "text", "fontSize": 11, "dy": 1},
          "encoding": {"x": {"datum": 0.281, "type": "quantitative"}, "y": {"field": "line", "type": "nominal"}, "text": {"field": "model"}}
        },
        {
          "data": {"name": "tableHeader"},
          "mark": {"type": "text", "fontSize": 11, "dy": 1},
          "encoding": {"x": {"datum": 0.683, "type": "quantitative"}, "y": {"field": "line", "type": "nominal"}, "text": {"field": "gain"}}
        },
        {
          "data": {"name": "tableHeader"},
          "mark": {"type": "text", "fontSize": 11, "dy": 1},
          "encoding": {"x": {"datum": 0.902, "type": "quantitative"}, "y": {"field": "line", "type": "nominal"}, "text": {"field": "time"}}
        },
        {
          "data": {"name": "stats"},
          "transform": [{"filter": "datum.table == 'falling'"}],
          "mark": {"type": "text", "fontSize": 11},
          "encoding": {"x": {"datum": 0.281, "type": "quantitative"}, "y": {"field": "band", "type": "nominal"}, "text": {"field": "band"}}
        },
        {
          "data": {"name": "stats"},
          "transform": [{"filter": "datum.table == 'falling'"}],
          "mark": {"type": "text", "fontSize": 11, "align": "right"},
          "encoding": {"x": {"datum": 0.772, "type": "quantitative"}, "y": {"field": "band", "type": "nominal"}, "text": {"field": "gain", "type": "quantitative", "format": ".2f"}}
        },
        {
          "data": {"name": "stats"},
          "transform": [{"filter": "datum.table == 'falling'"}],
          "mark": {"type": "text", "fontSize": 11, "align": "right"},
          "encoding": {"x": {"datum": 0.972, "type": "quantitative"}, "y": {"field": "band", "type": "nominal"}, "text": {"field": "time", "type": "quantitative", "format": ".2f"}}
        },
        {
          "data": {"values": [{}]},
          "mark": {"type": "text", "text": "Buy/Hold = 6.12% Gain/Annum", "fontSize": 11.5, "fontStyle": "italic", "align": "left"},
          "encoding": {"x": {"datum": 0.04, "type": "quantitative"}, "y": {"datum": "foot", "type": "nominal"}}
        }
      ]
    }
  ],
  "resolve": {"scale": {"x": "independent", "y": "independent"}, "axis": {"x": "independent", "y": "independent"}}
}
